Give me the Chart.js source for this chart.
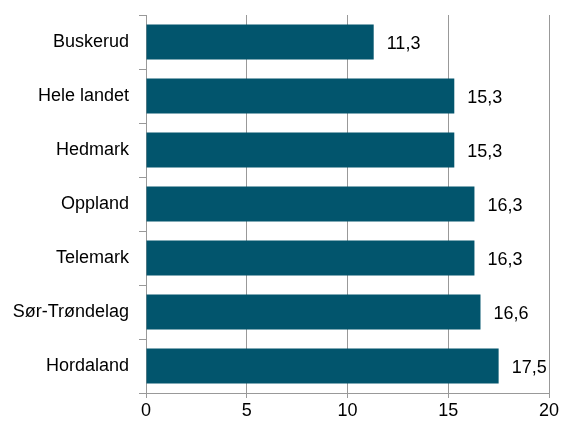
<!DOCTYPE html>
<html>
<head>
<meta charset="utf-8">
<script src="https://cdn.jsdelivr.net/npm/chart.js@4/dist/chart.umd.min.js"></script>
<style>
  html, body { margin: 0; padding: 0; background: #fff; }
  #wrap { width: 563px; height: 423px; }
</style>
</head>
<body>
<div id="wrap"><canvas id="c"></canvas></div>
<script>
const regions = ["Buskerud", "Hele landet", "Hedmark", "Oppland", "Telemark", "Sør-Trøndelag", "Hordaland"];
const values = [11.3, 15.3, 15.3, 16.3, 16.3, 16.6, 17.5];
const xTicks = [0, 5, 10, 15, 20];

const FONT = "'Liberation Sans', Arial, sans-serif";
const fmt = (v) => v.toFixed(1).replace(".", ",");

const valueLabels = {
  id: "valueLabels",
  afterDatasetsDraw(chart) {
    const ctx = chart.ctx;
    const meta = chart.getDatasetMeta(0);
    ctx.save();
    ctx.font = "18px " + FONT;
    ctx.fillStyle = "#000";
    ctx.textAlign = "left";
    ctx.textBaseline = "middle";
    meta.data.forEach((bar, i) => {
      ctx.fillText(fmt(values[i]), bar.x + 13, bar.y + 2);
    });
    ctx.restore();
  },
};

new Chart(document.getElementById("c"), {
  type: "bar",
  data: {
    labels: regions,
    datasets: [{
      data: values,
      backgroundColor: "#02556d",
      borderWidth: 0,
      barPercentage: 0.65,
      categoryPercentage: 1,
    }],
  },
  options: {
    indexAxis: "y",
    responsive: true,
    maintainAspectRatio: false,
    animation: false,
    layout: { padding: { top: 15, right: 14, left: 0, bottom: 0 } },
    plugins: { legend: { display: false }, tooltip: { enabled: false } },
    scales: {
      x: {
        min: 0,
        max: 20,
        afterBuildTicks: (s) => { s.ticks = xTicks.map((v) => ({ value: v })); },
        afterFit: (s) => { s.height = 30; },
        grid: { color: "#999", lineWidth: 1, tickLength: 5, drawOnChartArea: true },
        border: { color: "#999", width: 1 },
        ticks: { color: "#000", padding: 2, font: { family: FONT, size: 18 } },
      },
      y: {
        afterFit: (s) => { s.width = 146; s.paddingTop = 0; s.paddingBottom = 0; },
        grid: { color: "#999", lineWidth: 1, tickLength: 7, drawOnChartArea: false, offset: true },
        border: { color: "#999", width: 1 },
        ticks: { color: "#000", padding: 10, font: { family: FONT, size: 18 } },
      },
    },
  },
  plugins: [valueLabels],
});
</script>
</body>
</html>
